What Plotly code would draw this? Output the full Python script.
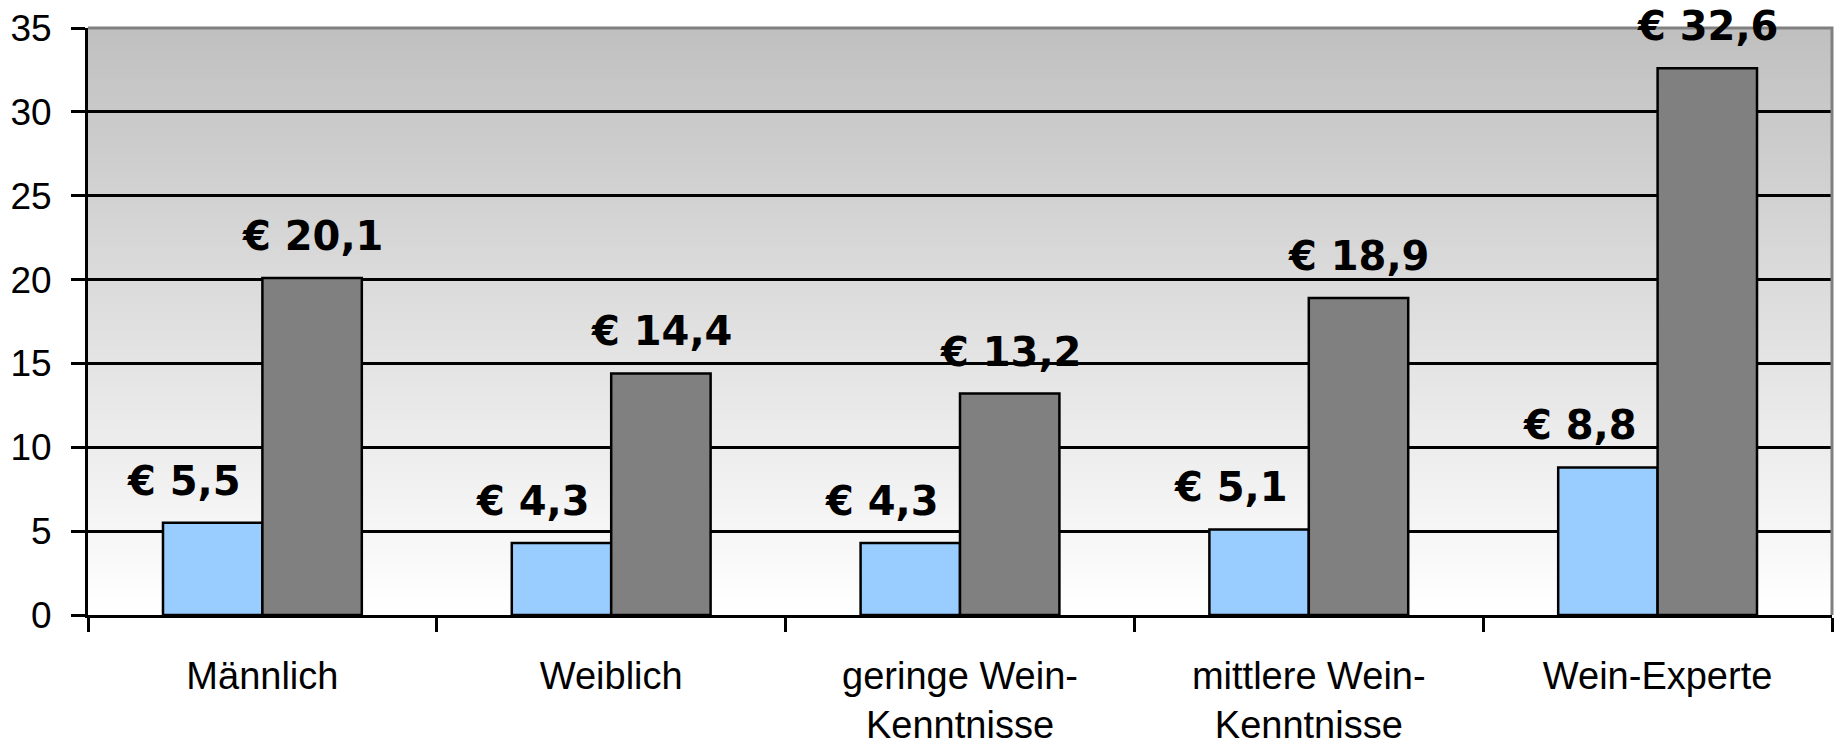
import plotly.graph_objects as go

# Average spend per bottle (EUR), by consumer group
categories = ["Männlich", "Weiblich", "geringe Wein-<br>Kenntnisse",
              "mittlere Wein-<br>Kenntnisse", "Wein-Experte"]
price_low = [5.5, 4.3, 4.3, 5.1, 8.8]
price_high = [20.1, 14.4, 13.2, 18.9, 32.6]
y_ticks = [0, 5, 10, 15, 20, 25, 30, 35]

def euro(v):
    return "€ " + f"{v:.1f}".replace(".", ",")

fig = go.Figure()
fig.add_trace(go.Bar(x=categories, y=price_low, marker=dict(color="#99ccff", line=dict(color="black", width=2.5)),
                     hoverinfo="y"))
fig.add_trace(go.Bar(x=categories, y=price_high, marker=dict(color="#808080", line=dict(color="black", width=2.5)),
                     hoverinfo="y"))

label_font = dict(family="DejaVu Sans", size=40, color="black")
annotations = []
for cat, lo, hi in zip(categories, price_low, price_high):
    annotations.append(dict(x=cat, y=lo, xref="x", yref="y", text="<b>" + euro(lo) + "</b>",
                            showarrow=False, yanchor="bottom", xanchor="center",
                            xshift=-78, yshift=17, font=label_font))
    annotations.append(dict(x=cat, y=hi, xref="x", yref="y", text="<b>" + euro(hi) + "</b>",
                            showarrow=False, yanchor="bottom", xanchor="center",
                            xshift=50, yshift=17, font=label_font))

# vertical grey gradient behind the plot area (bands overlap to avoid seams)
shapes = []
n_bands = 70
top = y_ticks[-1]
step = top / n_bands
for i in range(n_bands):
    y0 = step * i
    y1 = min(top, step * (i + 1) + step * 0.6)
    t = (i + 0.5) / n_bands
    g = round(255 - (255 - 192) * t)
    shapes.append(dict(type="rect", xref="paper", yref="y", x0=0, x1=1, y0=y0, y1=y1,
                       fillcolor=f"rgb({g},{g},{g})", line=dict(width=0), layer="below"))
# grey frame on top and right edges
shapes.append(dict(type="path", xref="paper", yref="paper", path="M 0,1 L 1,1 L 1,0",
                   line=dict(color="#808080", width=3), layer="above"))

fig.update_layout(
    width=1837, height=745,
    margin=dict(l=88, r=5, t=28, b=130),
    paper_bgcolor="white",
    plot_bgcolor="white",
    barmode="group",
    bargap=0.43,
    bargroupgap=0,
    showlegend=False,
    shapes=shapes,
    annotations=annotations,
    font=dict(family="Liberation Sans, Arial, sans-serif", size=37, color="black"),
)
fig.update_xaxes(
    showline=True, linecolor="black", linewidth=3,
    ticks="outside", ticklen=14, tickwidth=2.5, tickcolor="black",
    tickson="boundaries", showgrid=False,
    tickfont=dict(family="Liberation Sans, Arial, sans-serif", size=38),
    ticklabelstandoff=25, automargin=False,
)
fig.update_yaxes(
    range=[0, 35], tickvals=y_ticks,
    showline=True, linecolor="black", linewidth=3,
    ticks="outside", ticklen=14, tickwidth=2.5, tickcolor="black",
    showgrid=True, gridcolor="black", gridwidth=2.5,
    zeroline=False,
    tickfont=dict(family="Liberation Sans, Arial, sans-serif", size=37),
    ticklabelstandoff=12, automargin=False,
)

fig.write_html("out.html")
